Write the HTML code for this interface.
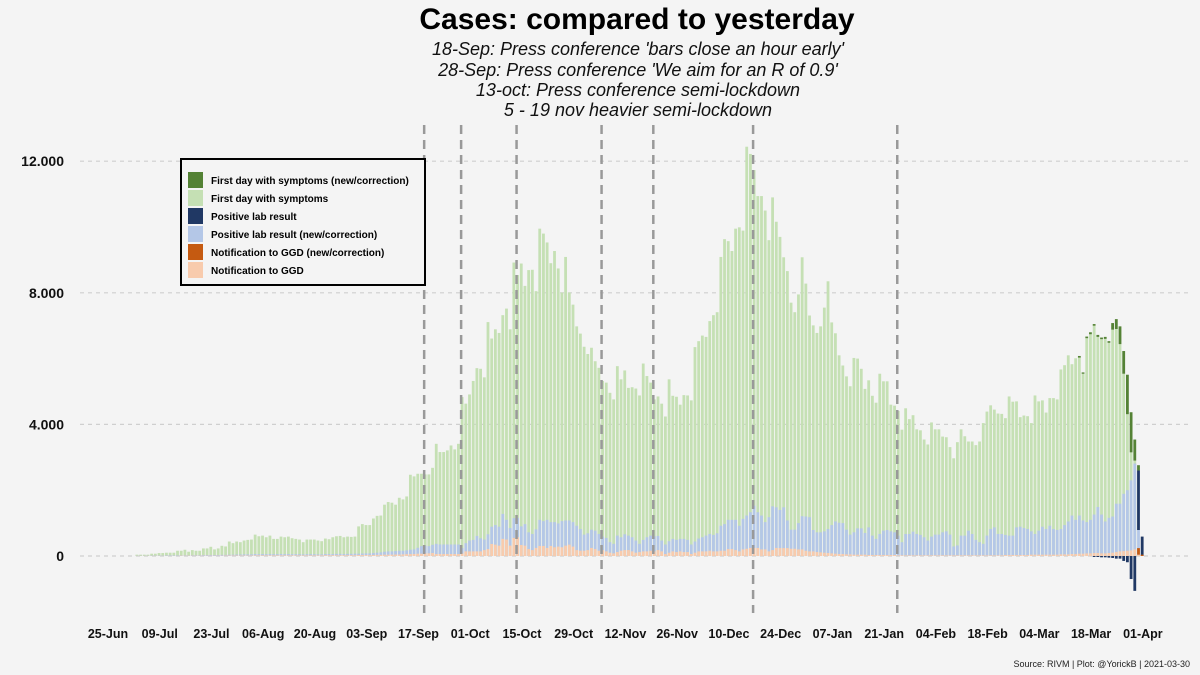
<!DOCTYPE html>
<html><head><meta charset="utf-8">
<style>
html,body{margin:0;padding:0;background:#f4f4f4;}
svg{display:block;font-family:"Liberation Sans",Arial,sans-serif;}
</style></head>
<body>
<svg id="chart" width="1200" height="675" viewBox="0 0 1200 675" xmlns="http://www.w3.org/2000/svg">
<rect x="0" y="0" width="1200" height="675" fill="#f4f4f4"/>
<text x="637" y="29" text-anchor="middle" font-size="30" font-weight="bold" fill="#000">Cases: compared to yesterday</text>
<g font-size="18" font-style="italic" text-anchor="middle" fill="#111">
<text x="638" y="55">18-Sep: Press conference 'bars close an hour early'</text>
<text x="638" y="76">28-Sep: Press conference 'We aim for an R of 0.9'</text>
<text x="638" y="96">13-oct: Press conference semi-lockdown</text>
<text x="638" y="116">5 - 19 nov heavier semi-lockdown</text>
</g>
<g id="grid"></g>
<g id="bars"></g>
<g id="vlines"></g>
<g id="yaxis"></g>
<g id="xaxis"></g>
<g>
<rect x="181" y="159" width="244" height="126" fill="#f4f4f4" stroke="#000" stroke-width="2"/>
<g font-size="10" font-weight="bold" fill="#000">
<rect x="188" y="172" width="15" height="16" fill="#548235"/>
<text x="211" y="184">First day with symptoms (new/correction)</text>
<rect x="188" y="190" width="15" height="16" fill="#c5e0b4"/>
<text x="211" y="202">First day with symptoms</text>
<rect x="188" y="208" width="15" height="16" fill="#203864"/>
<text x="211" y="220">Positive lab result</text>
<rect x="188" y="226" width="15" height="16" fill="#b4c7e7"/>
<text x="211" y="238">Positive lab result (new/correction)</text>
<rect x="188" y="244" width="15" height="16" fill="#c55a11"/>
<text x="211" y="256">Notification to GGD (new/correction)</text>
<rect x="188" y="262" width="15" height="16" fill="#f8cbad"/>
<text x="211" y="274">Notification to GGD</text>
</g>
</g>
<text x="1190" y="667" text-anchor="end" font-size="9" fill="#222">Source: RIVM | Plot: @YorickB |  2021-03-30</text>
</svg>
<script>
// Day index 0 = 25-Jun-2020; series start at day 7
const startDay = 7;
const yTicks = [0, 4000, 8000, 12000];
const yTickLabels = ["0", "4.000", "8.000", "12.000"];
const xTickDays = [0,14,28,42,56,70,84,98,112,126,140,154,168,182,196,210,224,238,252,266,280];
const xTickLabels = ["25-Jun","09-Jul","23-Jul","06-Aug","20-Aug","03-Sep","17-Sep","01-Oct","15-Oct","29-Oct","12-Nov","26-Nov","10-Dec","24-Dec","07-Jan","21-Jan","04-Feb","18-Feb","04-Mar","18-Mar","01-Apr"];
const eventDays = [85, 95, 110, 133, 147, 174, 213];
// top of "first day with symptoms" bar (cumulative level)
const symptoms = [
40,40,40,40,70,70,90,90,100,100,100,160,160,190,130,180,160,160,230,230,
280,200,230,310,290,440,390,440,420,470,490,500,650,600,620,570,620,520,520,590,
570,590,540,520,500,420,500,500,500,470,450,530,510,570,600,610,570,590,580,590,
900,970,940,940,1140,1220,1230,1560,1640,1620,1560,1770,1720,1810,2470,2420,2500,2500,2480,2480,
2680,3410,3160,
3160,3210,3360,3240,3410,4830,4630,4910,5320,5710,5690,5430,7110,6610,6890,
6780,7320,7520,6890,8920,8540,8890,8210,8690,8700,8050,9950,9800,9530,8900,9270,8740,8010,9090,8010,
7640,6980,6760,6360,6140,6330,5920,5720,5320,5270,4960,4760,5770,5370,5640,5110,5130,5090,4880,5850,
5470,5270,4760,4850,4630,4240,5370,4870,4840,4600,4890,4880,4730,6350,6530,6700,6660,7140,7320,7410,
9090,9630,9570,9270,9950,9990,9890,12440,12220,11730,10940,10940,10500,9600,10900,10160,
9700,
9080,8660,7700,7410,7950,9080,8280,7310,7010,6780,
6980,7550,8350,7100,6770,6100,5790,5460,5160,6020,
6000,5690,5080,5340,4870,4660,5540,5310,5310,4600,
4570,4410,3840,4490,4160,4280,3850,3820,3540,3390,
4060,3850,3850,3630,3610,3310,2970,3460,3850,3640,
3480,3480,3370,3480,4040,4390,4580,4450,4330,4320,
4190,4850,4690,4700,4220,4270,4250,4040,4880,4700,
4730,4360,4800,4800,4760,5670,5800,6100,5830,6010,
6030,5540,6620,6740,7000,6660,6590,6600,6480,6880,
6900,6440,5540,4310,3150,2900,
0,0];
// top of "positive lab result (new/correction)" bar (cumulative level)
const labResult = [
10,10,10,10,15,15,15,15,20,20,20,20,20,25,20,25,25,25,30,30,
30,30,30,35,35,40,40,45,45,50,50,50,60,55,60,55,60,55,55,60,
55,60,55,55,55,50,55,55,55,50,50,60,60,60,65,65,60,65,65,70,
70,75,80,80,90,100,110,130,140,140,150,160,160,170,190,200,250,300,310,300,
340,370,350,
350,350,350,350,350,240,390,470,490,610,
540,500,660,890,940,890,1280,1100,850,1150,
1160,900,970,720,670,810,1100,1060,1100,1030,
1030,990,1060,1080,1080,1030,920,820,650,690,
800,770,670,590,550,420,370,620,570,660,
620,570,470,370,490,570,620,600,610,470,
350,450,520,490,520,520,490,350,440,530,
570,620,670,640,690,920,970,1100,1100,1100,
920,1130,1230,1330,1530,1330,1230,1030,1180,1510,
1480,1400,
1480,1080,800,800,1000,1210,1200,1180,790,720,
720,750,820,940,1050,1010,1000,800,650,720,
840,840,700,870,620,520,670,770,790,750,
720,620,420,670,670,740,670,640,570,470,
590,650,650,720,750,650,290,320,620,620,
770,670,490,420,370,620,820,870,670,670,
640,620,620,870,890,850,820,750,670,770,
890,820,920,820,790,820,940,1050,1230,1100,
1230,1080,1030,1100,1260,1490,1260,1050,1160,1200,
1590,1590,1890,2000,2300,2810,
790,0];
// "notification to GGD" values
const ggd = [
5,5,5,5,5,5,5,5,5,5,5,5,10,10,10,10,10,10,10,10,
10,10,10,10,15,15,15,15,15,15,
15,15,20,20,20,20,20,20,20,20,20,20,20,20,20,20,20,20,20,20,
20,25,25,25,25,25,25,25,25,25,
30,30,30,30,30,35,35,40,40,40,45,45,50,55,60,60,70,70,80,80,90,60,60,
60,60,60,60,60,80,140,140,140,140,
140,180,210,365,345,315,520,500,315,550,
570,335,315,210,180,245,305,305,245,305,
265,285,265,315,345,285,180,160,160,180,
245,210,160,180,140,100,80,120,160,180,
180,140,100,120,140,140,160,140,180,140,
60,100,140,120,140,120,120,60,100,140,
140,140,160,140,140,160,160,210,210,180,
140,200,220,245,245,245,200,200,140,180,
245,
240,240,240,220,220,200,200,160,140,140,
120,110,100,90,80,70,60,60,50,50,
40,40,40,40,30,30,30,30,30,30,
30,30,20,20,20,20,20,20,20,20,
20,20,20,20,20,20,20,20,20,20,
20,20,20,20,20,20,20,20,20,20,
20,30,30,30,30,30,30,30,40,40,
40,40,40,40,40,40,50,50,50,60,
60,70,70,80,80,90,90,80,80,90,
100,120,140,150,160,170,200,
40,0];
// corrections (tail), starting at day 262
const tailStart = 262;
const symptomsNew = [50,40,50,60,50,60,50,60,50,200,300,540,690,1200,1220,640,160,0];
const labNew = [0,0,0,0,-30,-30,-40,-40,-50,-60,-80,-80,-150,-190,-700,-1060,1810,590];
const ggdNew = [0,0,0,0,0,0,0,0,0,0,0,0,0,0,0,0,200,40];

const NS = "http://www.w3.org/2000/svg";
const x0 = 108, pxPerDay = 3.696, y0 = 556, pxPerUnit = 131.6/4000;
const barShift = 3;
function xScale(d){ return x0 + d*pxPerDay; }
function yScale(v){ return y0 - v*pxPerUnit; }
const barW = 2.8;
const C = {sym:"#c5e0b4", symNew:"#548235", lab:"#b4c7e7", labNew:"#203864", ggd:"#f8cbad", ggdNew:"#c55a11"};

function mk(tag, attrs, parent){
  const e = document.createElementNS(NS, tag);
  for (const k in attrs) e.setAttribute(k, attrs[k]);
  parent.appendChild(e);
  return e;
}
function bar(parent, d, a, b, color, name){
  const lo = Math.min(a,b), hi = Math.max(a,b);
  if (hi - lo <= 0) return;
  const r = mk("rect", {x:(xScale(d)+barShift-barW/2).toFixed(2), y:yScale(hi).toFixed(2), width:barW, height:(yScale(lo)-yScale(hi)).toFixed(2), fill:color}, parent);
  
  
}

const grid = document.getElementById("grid");
const yaxis = document.getElementById("yaxis");
yTicks.forEach((v,i)=>{
  const l = mk("line", {x1:80, x2:1192, y1:yScale(v), y2:yScale(v), stroke:"#cfcfcf", "stroke-width":1.2, "stroke-dasharray":"4,4"}, grid);
  
  
  const t = mk("text", {x:64, y:yScale(v)+5, "text-anchor":"end", "font-size":14, "font-weight":"bold", fill:"#111"}, yaxis);
  t.textContent = yTickLabels[i];
  
  
});
const xaxis = document.getElementById("xaxis");
xTickDays.forEach((d,i)=>{
  const t = mk("text", {x:xScale(d), y:638, "text-anchor":"middle", "font-size":12.5, "font-weight":"bold", fill:"#111"}, xaxis);
  t.textContent = xTickLabels[i];
  
  
});
const bars = document.getElementById("bars");
for (let i=0;i<symptoms.length;i++){
  const d = startDay + i;
  const j = d - tailStart;
  const sN = j>=0 ? symptomsNew[j] : 0;
  const lN = j>=0 ? labNew[j] : 0;
  const gN = j>=0 ? ggdNew[j] : 0;
  bar(bars, d, 0, symptoms[i], C.sym, 'bar-symptoms');
  bar(bars, d, 0, labResult[i], C.lab, 'bar-lab-new');
  if (lN > 0) bar(bars, d, labResult[i], labResult[i]+lN, C.labNew, 'bar-lab');
  else if (lN < 0) bar(bars, d, 0, lN, C.labNew, 'bar-lab-negative');
  const base = Math.max(symptoms[i], labResult[i] + Math.max(0,lN));
  if (sN > 0) bar(bars, d, base, base+sN, C.symNew, 'bar-symptoms-new');
  bar(bars, d, 0, ggd[i], C.ggd, 'bar-ggd');
  if (gN > 0) bar(bars, d, ggd[i], ggd[i]+gN, C.ggdNew, 'bar-ggd-new');
}
const vlines = document.getElementById("vlines");
eventDays.forEach(d=>{
  const l = mk("line", {x1:xScale(d)+2, x2:xScale(d)+2, y1:125, y2:613, stroke:"#999", "stroke-width":2.5, "stroke-dasharray":"9,6"}, vlines);
  
  
});
</script>
</body></html>
